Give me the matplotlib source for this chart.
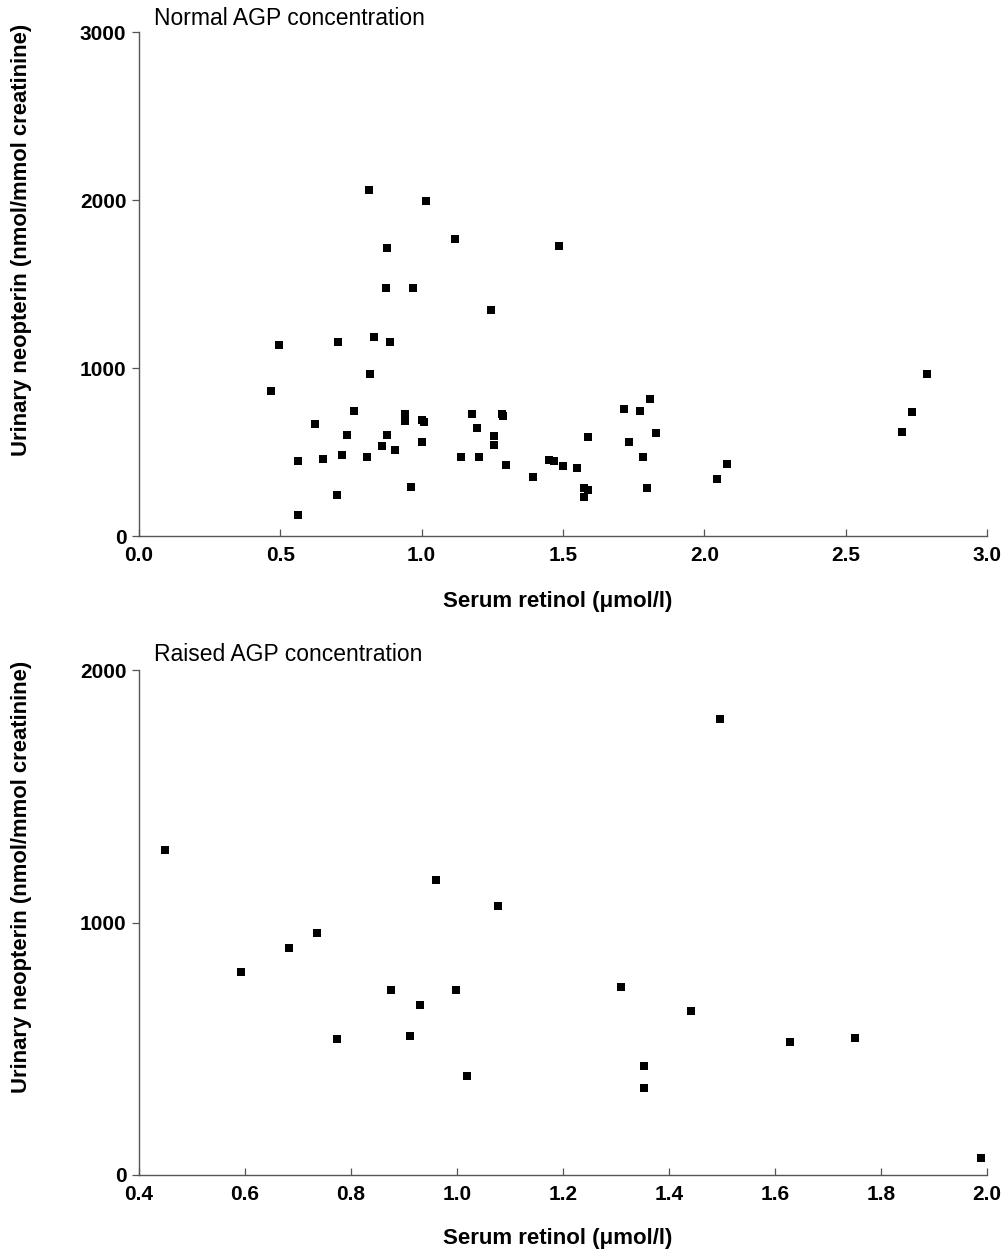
import matplotlib
matplotlib.use('Agg')
import matplotlib.pyplot as plt

plt.rcParams['font.family'] = ['Liberation Sans', 'DejaVu Sans']

# ── data: normal AGP ─────────────────────────────
normal_retinol = [0.815, 1.016, 0.879, 1.117, 1.485,
                  0.874, 0.968, 1.244, 0.497, 0.703, 0.831, 0.887, 0.816, 0.468,
                  0.761, 0.624, 0.942, 0.942, 1.002, 1.008, 0.735, 0.876, 0.861,
                  0.906, 1.000, 0.561, 0.651, 0.717, 0.806, 0.702, 0.963, 0.561,
                  1.140, 1.177, 1.197, 1.203, 1.255, 1.255, 1.284, 1.287, 1.299,
                  1.395, 1.450, 1.467, 1.500, 1.550, 1.590, 1.576, 1.588, 1.576,
                  1.716, 1.774, 1.808, 1.829, 1.735, 1.784, 1.798, 2.045, 2.079,
                  2.701, 2.734, 2.787]
normal_neopterin = [2057, 1992, 1716, 1766, 1724,
                    1476, 1476, 1343, 1139, 1153, 1185, 1157, 966, 866,
                    745, 667, 725, 685, 691, 680, 604, 600, 538,
                    514, 558, 448, 460, 484, 472, 243, 293, 124,
                    468, 725, 645, 472, 598, 544, 729, 715, 422,
                    353, 450, 446, 418, 406, 592, 283, 273, 233,
                    757, 745, 817, 616, 562, 472, 287, 339, 426,
                    620, 741, 966]

# ── data: raised AGP ─────────────────────────────
raised_retinol = [0.450, 0.592, 0.683, 0.735, 0.774, 0.876, 0.911, 0.930, 0.961, 0.998,
                  1.019, 1.077, 1.309, 1.353, 1.353, 1.441, 1.496, 1.628, 1.751, 1.989]
raised_neopterin = [1286, 803, 900, 960, 538, 734, 551, 672, 1168, 734,
                    394, 1066, 745, 430, 345, 648, 1805, 526, 543, 68]

W, H = 1004, 1249
fig = plt.figure(figsize=(W / 100, H / 100), dpi=100)

YLABEL = 'Urinary neopterin (nmol/mmol creatinine)'
XLABEL = 'Serum retinol (\u03bcmol/l)'
AXCOL = '#555555'


def style_axes(ax):
    for s in ('top', 'right'):
        ax.spines[s].set_visible(False)
    for s in ('left', 'bottom'):
        ax.spines[s].set_color(AXCOL)
        ax.spines[s].set_linewidth(1.0)
    ax.tick_params(axis='x', direction='in', length=5, width=0.9, color=AXCOL,
                   pad=7, labelsize=15)
    ax.tick_params(axis='y', direction='out', length=5, width=0.9, color=AXCOL,
                   pad=4, labelsize=15)
    for lab in ax.get_xticklabels() + ax.get_yticklabels():
        lab.set_fontweight('bold')


# 上: Normal AGP
ax1 = fig.add_axes([139 / W, 1 - 536 / H, 848 / W, 504 / H])
ax1.plot(normal_retinol, normal_neopterin, 's', color='black', ms=5.8, mew=0)
ax1.set_xlim(0, 3.0)
ax1.set_ylim(0, 3000)
ax1.set_xticks([0.0, 0.5, 1.0, 1.5, 2.0, 2.5, 3.0])
ax1.set_xticklabels(['0.0', '0.5', '1.0', '1.5', '2.0', '2.5', '3.0'])
ax1.set_yticks([0, 1000, 2000, 3000])
style_axes(ax1)

# 下: Raised AGP
ax2 = fig.add_axes([139 / W, 1 - 1175 / H, 848 / W, 505 / H])
ax2.plot(raised_retinol, raised_neopterin, 's', color='black', ms=5.8, mew=0)
ax2.set_xlim(0.4, 2.0)
ax2.set_ylim(0, 2000)
ax2.set_xticks([0.4, 0.6, 0.8, 1.0, 1.2, 1.4, 1.6, 1.8, 2.0])
ax2.set_xticklabels(['0.4', '0.6', '0.8', '1.0', '1.2', '1.4', '1.6', '1.8', '2.0'])
ax2.set_yticks([0, 1000, 2000])
style_axes(ax2)

# titles / labels
fig.text(154 / W, 1 - 25 / H, 'Normal AGP concentration', fontsize=16.5, va='baseline')
fig.text(154 / W, 1 - 661 / H, 'Raised AGP concentration', fontsize=16.5, va='baseline')

fig.text(558 / W, 1 - 607 / H, XLABEL, fontsize=16, fontweight='bold',
         ha='center', va='baseline')
fig.text(558 / W, 1 - 1244 / H, XLABEL, fontsize=16, fontweight='bold',
         ha='center', va='baseline')

fig.text(22 / W, 1 - 240 / H, YLABEL, fontsize=15.8, fontweight='bold',
         rotation=90, ha='center', va='center')
fig.text(22 / W, 1 - 877 / H, YLABEL, fontsize=15.8, fontweight='bold',
         rotation=90, ha='center', va='center')

fig.savefig('out.png', dpi=100)
